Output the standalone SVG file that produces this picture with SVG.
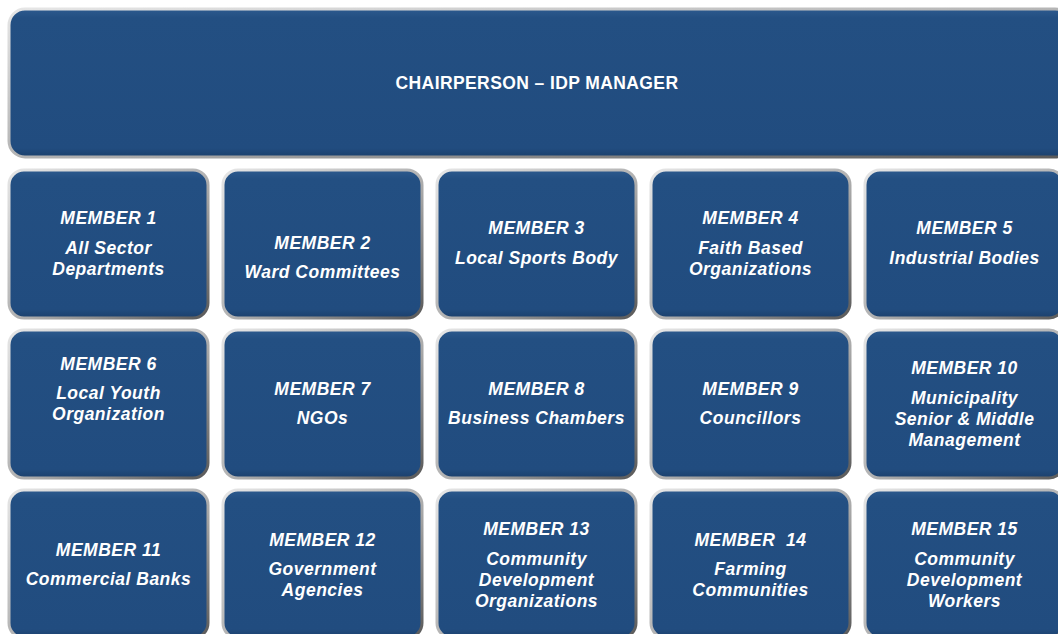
<svg xmlns="http://www.w3.org/2000/svg" width="1058" height="634" viewBox="0 0 1058 634">
<defs>
<linearGradient id="edge" x1="0" y1="0" x2="1" y2="1">
<stop offset="0" stop-color="#e6e6e6"/>
<stop offset="0.5" stop-color="#b4b4b4"/>
<stop offset="1" stop-color="#5a5a5a"/>
</linearGradient>
<linearGradient id="fillg" x1="0" y1="0" x2="0" y2="1">
<stop offset="0" stop-color="#2d5a8e"/>
<stop offset="0.06" stop-color="#234f82"/>
<stop offset="0.94" stop-color="#214c7f"/>
<stop offset="1" stop-color="#1b406c"/>
</linearGradient>
</defs>
<style>
.box{fill:url(#fillg);stroke:url(#edge);stroke-width:3}
.t{font-family:"Liberation Sans",Arial,sans-serif;font-weight:bold;font-style:italic;font-size:17.5px;letter-spacing:0.5px;fill:#ffffff;text-anchor:middle}
.h{font-family:"Liberation Sans",Arial,sans-serif;font-weight:bold;font-size:17.5px;letter-spacing:0.4px;fill:#ffffff;text-anchor:middle}
</style>
<rect width="1058" height="634" fill="#ffffff"/>
<g id="chair">
<rect class="box" x="9" y="9" width="1062" height="148" rx="16"/>
<text class="h" x="537" y="89">CHAIRPERSON – IDP MANAGER</text>
</g>
<g id="m1"><rect class="box" x="9" y="170" width="199" height="148" rx="15"/>
<text class="t" x="108.5" y="224">MEMBER 1</text><text class="t" x="108.5" y="254">All Sector</text><text class="t" x="108.5" y="275">Departments</text></g>
<g id="m2"><rect class="box" x="223" y="170" width="199" height="148" rx="15"/>
<text class="t" x="322.5" y="249">MEMBER 2</text><text class="t" x="322.5" y="278">Ward Committees</text></g>
<g id="m3"><rect class="box" x="437" y="170" width="199" height="148" rx="15"/>
<text class="t" x="536.5" y="234">MEMBER 3</text><text class="t" x="536.5" y="264">Local Sports Body</text></g>
<g id="m4"><rect class="box" x="651" y="170" width="199" height="148" rx="15"/>
<text class="t" x="750.5" y="224">MEMBER 4</text><text class="t" x="750.5" y="254">Faith Based</text><text class="t" x="750.5" y="275">Organizations</text></g>
<g id="m5"><rect class="box" x="865" y="170" width="199" height="148" rx="15"/>
<text class="t" x="964.5" y="234">MEMBER 5</text><text class="t" x="964.5" y="264">Industrial Bodies</text></g>
<g id="m6"><rect class="box" x="9" y="330" width="199" height="148" rx="15"/>
<text class="t" x="108.5" y="370">MEMBER 6</text><text class="t" x="108.5" y="399">Local Youth</text><text class="t" x="108.5" y="420">Organization</text></g>
<g id="m7"><rect class="box" x="223" y="330" width="199" height="148" rx="15"/>
<text class="t" x="322.5" y="395">MEMBER 7</text><text class="t" x="322.5" y="424">NGOs</text></g>
<g id="m8"><rect class="box" x="437" y="330" width="199" height="148" rx="15"/>
<text class="t" x="536.5" y="395">MEMBER 8</text><text class="t" x="536.5" y="424">Business Chambers</text></g>
<g id="m9"><rect class="box" x="651" y="330" width="199" height="148" rx="15"/>
<text class="t" x="750.5" y="395">MEMBER 9</text><text class="t" x="750.5" y="424">Councillors</text></g>
<g id="m10"><rect class="box" x="865" y="330" width="199" height="148" rx="15"/>
<text class="t" x="964.5" y="374">MEMBER 10</text><text class="t" x="964.5" y="404">Municipality</text><text class="t" x="964.5" y="425">Senior &amp; Middle</text><text class="t" x="964.5" y="446">Management</text></g>
<g id="m11"><rect class="box" x="9" y="490" width="199" height="148" rx="15"/>
<text class="t" x="108.5" y="556">MEMBER 11</text><text class="t" x="108.5" y="585">Commercial Banks</text></g>
<g id="m12"><rect class="box" x="223" y="490" width="199" height="148" rx="15"/>
<text class="t" x="322.5" y="546">MEMBER 12</text><text class="t" x="322.5" y="575">Government</text><text class="t" x="322.5" y="596">Agencies</text></g>
<g id="m13"><rect class="box" x="437" y="490" width="199" height="148" rx="15"/>
<text class="t" x="536.5" y="535">MEMBER 13</text><text class="t" x="536.5" y="565">Community</text><text class="t" x="536.5" y="586">Development</text><text class="t" x="536.5" y="607">Organizations</text></g>
<g id="m14"><rect class="box" x="651" y="490" width="199" height="148" rx="15"/>
<text class="t" x="750.5" y="546" xml:space="preserve">MEMBER  14</text><text class="t" x="750.5" y="575">Farming</text><text class="t" x="750.5" y="596">Communities</text></g>
<g id="m15"><rect class="box" x="865" y="490" width="199" height="148" rx="15"/>
<text class="t" x="964.5" y="535">MEMBER 15</text><text class="t" x="964.5" y="565">Community</text><text class="t" x="964.5" y="586">Development</text><text class="t" x="964.5" y="607">Workers</text></g>
<g id="connectors"></g>
</svg>
